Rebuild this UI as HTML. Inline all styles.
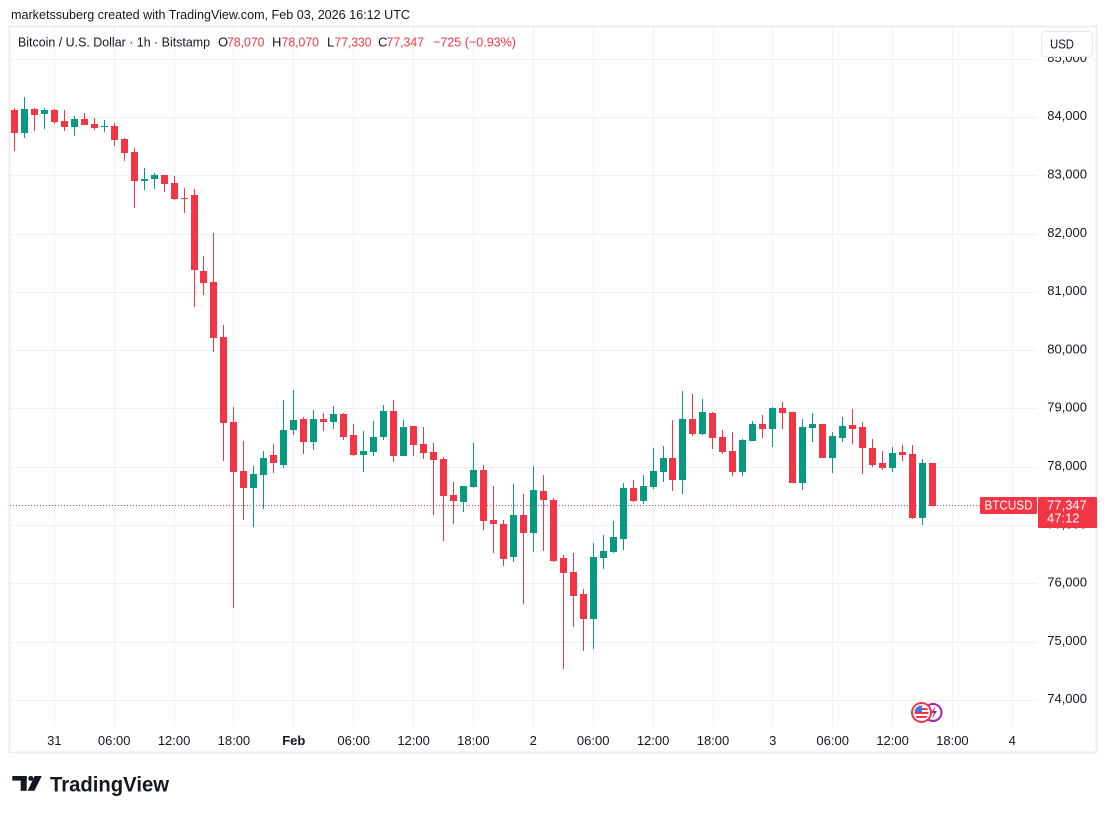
<!DOCTYPE html>
<html>
<head>
<meta charset="utf-8">
<style>
html,body{margin:0;padding:0;background:#fff;}
body{width:1107px;height:814px;overflow:hidden;}
svg{display:block;font-family:"Liberation Sans",Arial,sans-serif;}
</style>
</head>
<body>
<svg width="1107" height="814" viewBox="0 0 1107 814" xmlns="http://www.w3.org/2000/svg">
<rect x="0" y="0" width="1107" height="814" fill="#fff"/>
<!-- header -->
<text x="11" y="19" font-size="13" fill="#131722" textLength="399" lengthAdjust="spacingAndGlyphs">marketssuberg created with TradingView.com, Feb 03, 2026 16:12 UTC</text>

<!-- grid -->
<g stroke="#f0f1f3" stroke-width="1">
<line x1="54.5" y1="27" x2="54.5" y2="726"/>
<line x1="114.5" y1="27" x2="114.5" y2="726"/>
<line x1="174.5" y1="27" x2="174.5" y2="726"/>
<line x1="233.5" y1="27" x2="233.5" y2="726"/>
<line x1="293.5" y1="27" x2="293.5" y2="726"/>
<line x1="353.5" y1="27" x2="353.5" y2="726"/>
<line x1="413.5" y1="27" x2="413.5" y2="726"/>
<line x1="473.5" y1="27" x2="473.5" y2="726"/>
<line x1="533.5" y1="27" x2="533.5" y2="726"/>
<line x1="593.5" y1="27" x2="593.5" y2="726"/>
<line x1="653.5" y1="27" x2="653.5" y2="726"/>
<line x1="713.5" y1="27" x2="713.5" y2="726"/>
<line x1="772.5" y1="27" x2="772.5" y2="726"/>
<line x1="832.5" y1="27" x2="832.5" y2="726"/>
<line x1="892.5" y1="27" x2="892.5" y2="726"/>
<line x1="952.5" y1="27" x2="952.5" y2="726"/>
<line x1="1012.5" y1="27" x2="1012.5" y2="726"/>
<line x1="10" y1="59.5" x2="1037" y2="59.5"/>
<line x1="10" y1="117.5" x2="1037" y2="117.5"/>
<line x1="10" y1="175.5" x2="1037" y2="175.5"/>
<line x1="10" y1="234.5" x2="1037" y2="234.5"/>
<line x1="10" y1="292.5" x2="1037" y2="292.5"/>
<line x1="10" y1="350.5" x2="1037" y2="350.5"/>
<line x1="10" y1="408.5" x2="1037" y2="408.5"/>
<line x1="10" y1="467.5" x2="1037" y2="467.5"/>
<line x1="10" y1="525.5" x2="1037" y2="525.5"/>
<line x1="10" y1="583.5" x2="1037" y2="583.5"/>
<line x1="10" y1="642.5" x2="1037" y2="642.5"/>
<line x1="10" y1="700.5" x2="1037" y2="700.5"/>
</g>

<!-- frame -->
<rect x="9.5" y="26.5" width="1087" height="726" fill="none" stroke="#eceef2" stroke-width="2"/>

<!-- legend -->
<text x="18" y="46.7" font-size="13" fill="#131722" textLength="192" lengthAdjust="spacingAndGlyphs">Bitcoin / U.S. Dollar · 1h · Bitstamp</text>
<g font-size="13">
<text x="218" y="46.7" fill="#131722">O</text>
<text x="227" y="46.7" fill="#f23645" textLength="37.5" lengthAdjust="spacingAndGlyphs">78,070</text>
<text x="272" y="46.7" fill="#131722">H</text>
<text x="281.5" y="46.7" fill="#f23645" textLength="37.5" lengthAdjust="spacingAndGlyphs">78,070</text>
<text x="327" y="46.7" fill="#131722">L</text>
<text x="334.5" y="46.7" fill="#f23645" textLength="37" lengthAdjust="spacingAndGlyphs">77,330</text>
<text x="378" y="46.7" fill="#131722">C</text>
<text x="386.5" y="46.7" fill="#f23645" textLength="37.5" lengthAdjust="spacingAndGlyphs">77,347</text>
<text x="433" y="46.7" fill="#f23645" textLength="83" lengthAdjust="spacingAndGlyphs">−725 (−0.93%)</text>
</g>

<!-- current price line -->
<line x1="10" y1="505.5" x2="980" y2="505.5" stroke="#f23645" stroke-width="1" stroke-dasharray="1 2"/>

<!-- red candles -->
<g fill="#f23645">
<rect x="14" y="108" width="1" height="43"/><rect x="11" y="110" width="7" height="23"/>
<rect x="34" y="108" width="1" height="23"/><rect x="31" y="109" width="7" height="6"/>
<rect x="54" y="109" width="1" height="15"/><rect x="51" y="110" width="7" height="12"/>
<rect x="64" y="110" width="1" height="21"/><rect x="61" y="121" width="7" height="6"/>
<rect x="84" y="113" width="1" height="12"/><rect x="81" y="119" width="7" height="6"/>
<rect x="94" y="118" width="1" height="12"/><rect x="91" y="124" width="7" height="4"/>
<rect x="114" y="123" width="1" height="23"/><rect x="111" y="126" width="7" height="14"/>
<rect x="124" y="138" width="1" height="23"/><rect x="121" y="139" width="7" height="14"/>
<rect x="134" y="148" width="1" height="60"/><rect x="131" y="152" width="7" height="29"/>
<rect x="164" y="175" width="1" height="17"/><rect x="161" y="175" width="7" height="9"/>
<rect x="174" y="176" width="1" height="24"/><rect x="171" y="183" width="7" height="16"/>
<rect x="184" y="188" width="1" height="25"/><rect x="181" y="198" width="7" height="1"/>
<rect x="194" y="189" width="1" height="118"/><rect x="191" y="195" width="7" height="75"/>
<rect x="203" y="256" width="1" height="39"/><rect x="200" y="271" width="7" height="12"/>
<rect x="213" y="233" width="1" height="119"/><rect x="210" y="282" width="7" height="56"/>
<rect x="223" y="325" width="1" height="136"/><rect x="220" y="337" width="7" height="86"/>
<rect x="233" y="407" width="1" height="201"/><rect x="230" y="422" width="7" height="50"/>
<rect x="243" y="441" width="1" height="79"/><rect x="240" y="471" width="7" height="17"/>
<rect x="273" y="444" width="1" height="29"/><rect x="270" y="455" width="7" height="8"/>
<rect x="303" y="417" width="1" height="37"/><rect x="300" y="419" width="7" height="23"/>
<rect x="323" y="413" width="1" height="18"/><rect x="320" y="419" width="7" height="3"/>
<rect x="343" y="413" width="1" height="27"/><rect x="340" y="414" width="7" height="23"/>
<rect x="353" y="424" width="1" height="32"/><rect x="350" y="435" width="7" height="20"/>
<rect x="393" y="400" width="1" height="62"/><rect x="390" y="411" width="7" height="45"/>
<rect x="413" y="426" width="1" height="30"/><rect x="410" y="426" width="7" height="19"/>
<rect x="423" y="427" width="1" height="32"/><rect x="420" y="444" width="7" height="9"/>
<rect x="433" y="443" width="1" height="72"/><rect x="430" y="452" width="7" height="8"/>
<rect x="443" y="457" width="1" height="84"/><rect x="440" y="459" width="7" height="37"/>
<rect x="453" y="482" width="1" height="42"/><rect x="450" y="495" width="7" height="6"/>
<rect x="483" y="465" width="1" height="65"/><rect x="480" y="470" width="7" height="51"/>
<rect x="493" y="486" width="1" height="67"/><rect x="490" y="520" width="7" height="4"/>
<rect x="503" y="520" width="1" height="46"/><rect x="500" y="524" width="7" height="35"/>
<rect x="523" y="494" width="1" height="110"/><rect x="520" y="515" width="7" height="18"/>
<rect x="543" y="475" width="1" height="76"/><rect x="540" y="491" width="7" height="9"/>
<rect x="553" y="498" width="1" height="64"/><rect x="550" y="500" width="7" height="61"/>
<rect x="563" y="555" width="1" height="114"/><rect x="560" y="558" width="7" height="15"/>
<rect x="573" y="553" width="1" height="74"/><rect x="570" y="572" width="7" height="24"/>
<rect x="583" y="589" width="1" height="62"/><rect x="580" y="594" width="7" height="25"/>
<rect x="633" y="480" width="1" height="22"/><rect x="630" y="488" width="7" height="13"/>
<rect x="672" y="420" width="1" height="71"/><rect x="669" y="458" width="7" height="22"/>
<rect x="692" y="394" width="1" height="42"/><rect x="689" y="419" width="7" height="15"/>
<rect x="712" y="412" width="1" height="37"/><rect x="709" y="413" width="7" height="25"/>
<rect x="722" y="430" width="1" height="24"/><rect x="719" y="437" width="7" height="15"/>
<rect x="732" y="432" width="1" height="44"/><rect x="729" y="451" width="7" height="21"/>
<rect x="762" y="415" width="1" height="23"/><rect x="759" y="424" width="7" height="5"/>
<rect x="782" y="402" width="1" height="27"/><rect x="779" y="408" width="7" height="5"/>
<rect x="789" y="412" width="7" height="71"/>
<rect x="819" y="424" width="7" height="34"/>
<rect x="852" y="409" width="1" height="35"/><rect x="849" y="425" width="7" height="4"/>
<rect x="862" y="422" width="1" height="52"/><rect x="859" y="427" width="7" height="21"/>
<rect x="872" y="439" width="1" height="28"/><rect x="869" y="448" width="7" height="17"/>
<rect x="882" y="451" width="1" height="19"/><rect x="879" y="463" width="7" height="5"/>
<rect x="902" y="445" width="1" height="16"/><rect x="899" y="452" width="7" height="3"/>
<rect x="912" y="445" width="1" height="74"/><rect x="909" y="454" width="7" height="64"/>
<rect x="929" y="463" width="7" height="43"/>
</g>

<!-- green candles -->
<g fill="#089981">
<rect x="24" y="97" width="1" height="41"/><rect x="21" y="109" width="7" height="24"/>
<rect x="44" y="108" width="1" height="21"/><rect x="41" y="110" width="7" height="4"/>
<rect x="74" y="116" width="1" height="20"/><rect x="71" y="119" width="7" height="8"/>
<rect x="104" y="120" width="1" height="12"/><rect x="101" y="126" width="7" height="1"/>
<rect x="144" y="168" width="1" height="22"/><rect x="141" y="179" width="7" height="2"/>
<rect x="154" y="173" width="1" height="16"/><rect x="151" y="175" width="7" height="4"/>
<rect x="253" y="466" width="1" height="61"/><rect x="250" y="474" width="7" height="14"/>
<rect x="263" y="451" width="1" height="58"/><rect x="260" y="458" width="7" height="17"/>
<rect x="283" y="400" width="1" height="68"/><rect x="280" y="430" width="7" height="35"/>
<rect x="293" y="390" width="1" height="45"/><rect x="290" y="420" width="7" height="10"/>
<rect x="313" y="410" width="1" height="40"/><rect x="310" y="419" width="7" height="23"/>
<rect x="333" y="406" width="1" height="23"/><rect x="330" y="414" width="7" height="8"/>
<rect x="363" y="431" width="1" height="41"/><rect x="360" y="451" width="7" height="4"/>
<rect x="373" y="421" width="1" height="35"/><rect x="370" y="437" width="7" height="15"/>
<rect x="383" y="405" width="1" height="35"/><rect x="380" y="411" width="7" height="26"/>
<rect x="403" y="420" width="1" height="36"/><rect x="400" y="427" width="7" height="29"/>
<rect x="463" y="486" width="1" height="26"/><rect x="460" y="486" width="7" height="16"/>
<rect x="473" y="443" width="1" height="45"/><rect x="470" y="470" width="7" height="17"/>
<rect x="513" y="484" width="1" height="78"/><rect x="510" y="515" width="7" height="42"/>
<rect x="533" y="466" width="1" height="86"/><rect x="530" y="490" width="7" height="43"/>
<rect x="593" y="543" width="1" height="106"/><rect x="590" y="557" width="7" height="62"/>
<rect x="603" y="535" width="1" height="34"/><rect x="600" y="551" width="7" height="7"/>
<rect x="613" y="521" width="1" height="32"/><rect x="610" y="537" width="7" height="15"/>
<rect x="623" y="483" width="1" height="67"/><rect x="620" y="488" width="7" height="51"/>
<rect x="643" y="475" width="1" height="29"/><rect x="640" y="486" width="7" height="15"/>
<rect x="653" y="448" width="1" height="41"/><rect x="650" y="471" width="7" height="16"/>
<rect x="663" y="446" width="1" height="36"/><rect x="660" y="458" width="7" height="14"/>
<rect x="682" y="391" width="1" height="103"/><rect x="679" y="419" width="7" height="61"/>
<rect x="702" y="399" width="1" height="36"/><rect x="699" y="412" width="7" height="22"/>
<rect x="742" y="439" width="1" height="37"/><rect x="739" y="440" width="7" height="32"/>
<rect x="752" y="421" width="1" height="20"/><rect x="749" y="424" width="7" height="17"/>
<rect x="772" y="407" width="1" height="40"/><rect x="769" y="408" width="7" height="21"/>
<rect x="802" y="419" width="1" height="71"/><rect x="799" y="427" width="7" height="56"/>
<rect x="812" y="413" width="1" height="29"/><rect x="809" y="424" width="7" height="4"/>
<rect x="832" y="432" width="1" height="41"/><rect x="829" y="436" width="7" height="22"/>
<rect x="842" y="417" width="1" height="25"/><rect x="839" y="426" width="7" height="12"/>
<rect x="892" y="447" width="1" height="25"/><rect x="889" y="453" width="7" height="15"/>
<rect x="922" y="459" width="1" height="66"/><rect x="919" y="463" width="7" height="55"/>
</g>

<!-- event icons -->
<g>
<circle cx="933" cy="712.5" r="8.5" fill="#fff" stroke="#9c27b0" stroke-width="2"/>
<path d="M936 706 L931 713 L934 713 L932 719 L937 711 L934 711 Z" fill="#9c27b0"/>
<circle cx="921.5" cy="712.5" r="9.5" fill="#fff" stroke="#f23645" stroke-width="2"/>
<clipPath id="fc"><circle cx="921.5" cy="712.5" r="7"/></clipPath>
<g clip-path="url(#fc)">
<rect x="913" y="704" width="18" height="18" fill="#fff"/>
<rect x="913" y="704" width="18" height="2" fill="#f23645"/>
<rect x="913" y="708" width="18" height="2" fill="#f23645"/>
<rect x="913" y="712" width="18" height="2" fill="#f23645"/>
<rect x="913" y="716" width="18" height="2" fill="#f23645"/>
<rect x="913" y="720" width="18" height="2" fill="#f23645"/>
<rect x="913" y="704" width="9" height="8" fill="#3d7bd9"/>
</g>
</g>

<!-- price axis labels -->
<g font-size="13" fill="#131722" text-anchor="end">
<text x="1087" y="62">85,000</text>
<text x="1087" y="120">84,000</text>
<text x="1087" y="178.5">83,000</text>
<text x="1087" y="237">82,000</text>
<text x="1087" y="295">81,000</text>
<text x="1087" y="353.5">80,000</text>
<text x="1087" y="411.5">79,000</text>
<text x="1087" y="470">78,000</text>
<text x="1087" y="528.5">77,000</text>
<text x="1087" y="586.5">76,000</text>
<text x="1087" y="645">75,000</text>
<text x="1087" y="703">74,000</text>
</g>

<!-- USD button -->
<rect x="1041.5" y="31.5" width="51" height="25" rx="4" fill="#fff" stroke="#e6e8ee" stroke-width="1"/>
<text x="1050" y="48.3" font-size="13" fill="#131722" textLength="24" lengthAdjust="spacingAndGlyphs">USD</text>

<!-- last price labels -->
<rect x="980" y="497" width="57" height="17" rx="1" fill="#f23645"/>
<text x="1008.5" y="509.5" font-size="13" fill="#fff" text-anchor="middle" textLength="48" lengthAdjust="spacingAndGlyphs">BTCUSD</text>
<rect x="1038" y="497" width="59" height="31" rx="1" fill="#f23645"/>
<text x="1047" y="509.5" font-size="13" fill="#fff">77,347</text>
<text x="1047" y="522.5" font-size="13" fill="#fff">47:12</text>

<!-- time axis -->
<g font-size="13" fill="#131722" text-anchor="middle">
<text x="54.3" y="745">31</text>
<text x="114.2" y="745">06:00</text>
<text x="174.1" y="745">12:00</text>
<text x="233.9" y="745">18:00</text>
<text x="293.8" y="745" font-weight="bold">Feb</text>
<text x="353.7" y="745">06:00</text>
<text x="413.6" y="745">12:00</text>
<text x="473.4" y="745">18:00</text>
<text x="533.3" y="745">2</text>
<text x="593.2" y="745">06:00</text>
<text x="653.1" y="745">12:00</text>
<text x="713" y="745">18:00</text>
<text x="772.8" y="745">3</text>
<text x="832.7" y="745">06:00</text>
<text x="892.6" y="745">12:00</text>
<text x="952.4" y="745">18:00</text>
<text x="1012.3" y="745">4</text>
</g>

<!-- TradingView logo -->
<g fill="#131722">
<rect x="12.3" y="776" width="14.4" height="4.6"/>
<rect x="20.7" y="776" width="6" height="14.8"/>
<circle cx="30.8" cy="778.4" r="2.5"/>
<path d="M34.6 776 L41.8 776 L34.4 790.8 L27.6 790.8 Z"/>
</g>
<text x="50" y="791.5" font-size="21" font-weight="bold" fill="#131722" textLength="119" lengthAdjust="spacingAndGlyphs">TradingView</text>
</svg>
</body>
</html>
